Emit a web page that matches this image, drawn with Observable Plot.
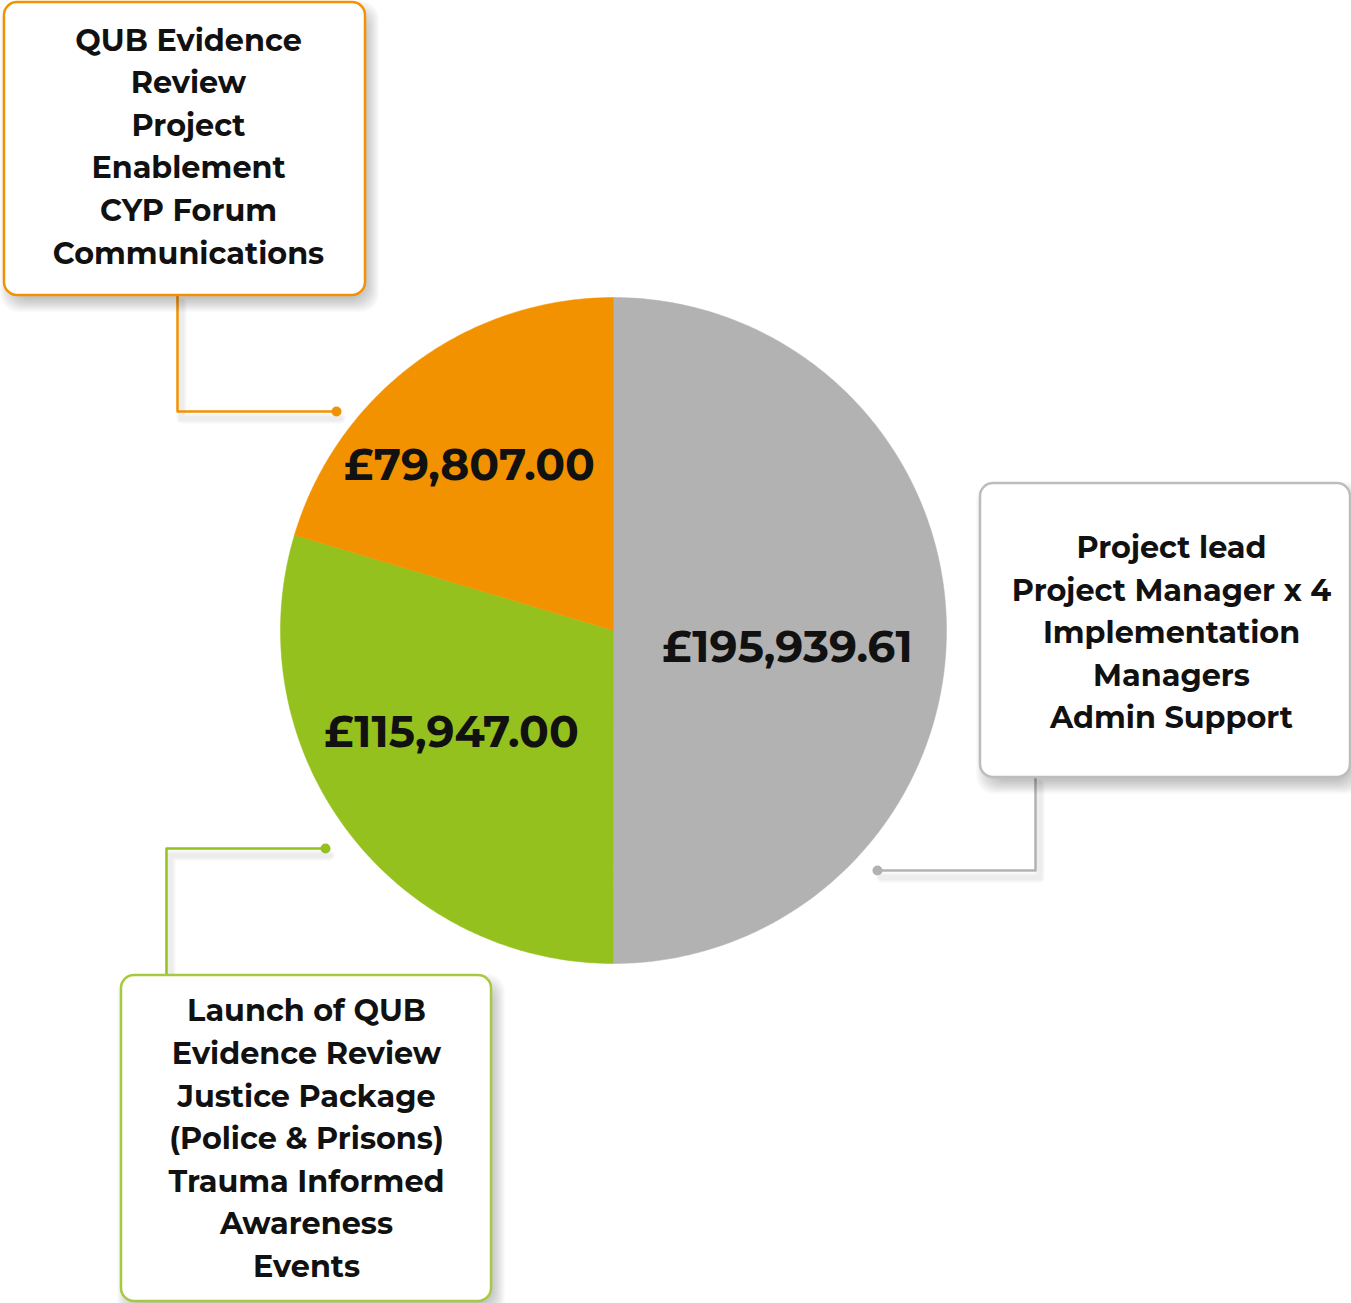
<!DOCTYPE html>
<html>
<head>
<meta charset="utf-8">
<script src="https://cdn.jsdelivr.net/npm/d3@7"></script>
<script src="https://cdn.jsdelivr.net/npm/@observablehq/plot@0.6"></script>
<style>
  html, body { margin: 0; padding: 0; background: #fff; }
  #chart { width: 1351px; height: 1303px; }
</style>
</head>
<body>
<div id="chart"></div>
<script>
// ---- Data ----
const categories = ["Staffing", "Events", "Projects"];
const amounts = [195939.61, 115947.00, 79807.00];
const amountLabels = ["£195,939.61", "£115,947.00", "£79,807.00"];
const sliceColors = ["#B2B2B2", "#95C11F", "#F39200"];
const calloutLines = [
  ["Project lead", "Project Manager x 4", "Implementation", "Managers", "Admin Support"],
  ["Launch of QUB", "Evidence Review", "Justice Package", "(Police & Prisons)", "Trauma Informed", "Awareness", "Events"],
  ["QUB Evidence", "Review", "Project", "Enablement", "CYP Forum", "Communications"]
];

// ---- Layout (pixels) ----
const W = 1351, H = 1303;
const cx = 613, cy = 630, R = 333;
const labelPos = [[787, 647], [451, 732], [469, 465]];
const boxes = [
  {x1: 980, x2: 1350, y1: 483, y2: 777, tx: 1171, ty: 629},
  {x1: 121, x2: 491, y1: 975, y2: 1301, tx: 306, ty: 1135},
  {x1: 4, x2: 365, y1: 2, y2: 295, tx: 188, ty: 143}
];
const connectors = [
  [[1035, 777], [1035, 870], [877, 870]],
  [[166, 975], [166, 848], [325, 848]],
  [[177, 295], [177, 411], [336, 411]]
];

// ---- Build slice polygons from d3.pie angles ----
const slices = categories.map((c, i) => ({category: c, value: amounts[i], label: amountLabels[i], color: sliceColors[i]}));
const arcs = d3.pie().sort(null).value(d => d.value)(slices);
const polys = arcs.map(a => {
  const pts = [{x: cx, y: cy}];
  const n = Math.max(8, Math.ceil((a.endAngle - a.startAngle) / 0.01));
  for (let k = 0; k <= n; k++) {
    const t = a.startAngle + (a.endAngle - a.startAngle) * k / n;
    pts.push({x: cx + R * Math.sin(t), y: cy - R * Math.cos(t)});
  }
  pts.push({x: cx, y: cy});
  return {color: a.data.color, pts};
});

const labels = slices.map((s, i) => ({text: s.label, x: labelPos[i][0], y: labelPos[i][1]}));
const boxStroke = ["#BDBDBD", "#A6C940", "#F39200"];
const boxData = boxes.map((b, i) => ({...b, stroke: boxStroke[i], text: calloutLines[i].join("\n")}));
const dotData = connectors.map((c, i) => ({x: c[c.length - 1][0], y: c[c.length - 1][1], color: sliceColors[i]}));
const connData = connectors.flatMap((c, i) => c.map(p => ({x: p[0], y: p[1], id: "c" + i, color: sliceColors[i]})));

// layered soft shadows (offset, progressively expanded, low opacity)
const SDX = 5, SDY = 8, LAYERS = 9;
const shadowRects = [];
for (let k = 0; k < LAYERS; k++) {
  const e = k * 1.6 - 4;
  boxes.forEach(b => shadowRects.push({x1: b.x1 + SDX - e, x2: b.x2 + SDX + e, y1: b.y1 + SDY - e, y2: b.y2 + SDY + e, k}));
}
const shadowLines = connectors.flatMap((c, i) => c.map(p => ({x: p[0] + 4, y: p[1] + 7, id: "s" + i})));

const font = "Montserrat, Inter, Lato, sans-serif";

const marks = [];
// connector shadows
[10, 6].forEach(w => marks.push(Plot.line(shadowLines, {x: "x", y: "y", z: "id", stroke: "#000", strokeOpacity: 0.035, strokeWidth: w, fill: "none"})));
polys.forEach(p => {
  marks.push(Plot.line(p.pts, {x: "x", y: "y", fill: p.color, stroke: p.color, strokeWidth: 0.5}));
});
marks.push(Plot.text(labels, {x: "x", y: "y", text: "text", fontSize: 44, fontWeight: 700, fill: "#111", fontFamily: font, textAnchor: "middle", lineAnchor: "middle"}));
marks.push(Plot.line(connData, {x: "x", y: "y", z: "id", stroke: "color", fill: "none", strokeWidth: 2.5}));
marks.push(Plot.dot(dotData, {x: "x", y: "y", r: 5, fill: "color", stroke: null}));
marks.push(Plot.rect(shadowRects, {x1: "x1", x2: "x2", y1: "y1", y2: "y2", fill: "#000", fillOpacity: 0.028, rx: 18}));
marks.push(Plot.rect(boxData, {x1: "x1", x2: "x2", y1: "y1", y2: "y2", fill: "white", stroke: "stroke", strokeWidth: 2.5, rx: 13}));
marks.push(Plot.text(boxData, {x: "tx", y: "ty", text: "text", fontSize: 30.3, fontWeight: 700, lineHeight: 1.405, fill: "#111", fontFamily: font, textAnchor: "middle", lineAnchor: "middle"}));

const chart = Plot.plot({
  width: W, height: H,
  margin: 0,
  x: {domain: [0, W], range: [0, W], axis: null},
  y: {domain: [0, H], range: [0, H], axis: null},
  color: {type: "identity"},
  style: {background: "white", overflow: "hidden"},
  marks
});

document.getElementById("chart").appendChild(chart);
</script>
</body>
</html>
